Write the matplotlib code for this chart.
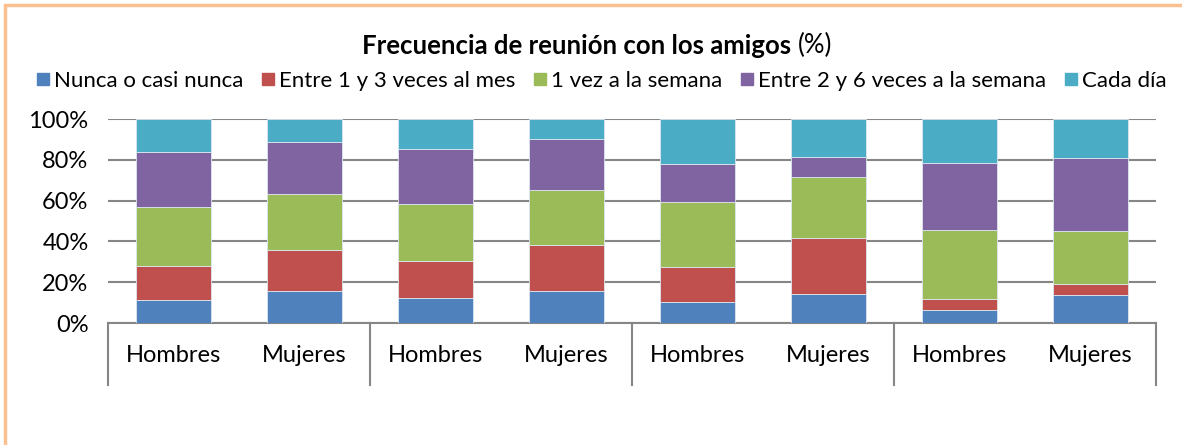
import matplotlib.pyplot as plt
from matplotlib.lines import Line2D
from matplotlib.patches import Rectangle
import numpy as np

plt.rcParams['font.family'] = ['Lato', 'DejaVu Sans']

categorias = ["Hombres", "Mujeres", "Hombres", "Mujeres",
              "Hombres", "Mujeres", "Hombres", "Mujeres"]
series = ["Nunca o casi nunca", "Entre 1 y 3 veces al mes", "1 vez a la semana",
          "Entre 2 y 6 veces a la semana", "Cada día"]
nunca = [11.1, 15.5, 12.1, 15.8, 10.1, 14.4, 6.5, 13.9]
entre_1_3 = [17.0, 20.3, 18.4, 22.4, 17.5, 27.4, 5.3, 5.4]
una_vez = [28.8, 27.6, 27.8, 27.0, 31.6, 29.9, 33.9, 25.8]
entre_2_6 = [27.1, 25.2, 27.1, 25.1, 18.9, 9.8, 32.9, 35.9]
cada_dia = [16.0, 11.4, 14.6, 9.7, 21.9, 18.5, 21.4, 19.0]
colores = ["#4F81BD", "#C0504D", "#9BBB59", "#8064A2", "#4BACC6"]

valores = [nunca, entre_1_3, una_vez, entre_2_6, cada_dia]

fig = plt.figure(figsize=(11.82, 4.45), dpi=100)
ax = fig.add_axes([108/1182, 122/445, 1048/1182, 204/445])

x = np.arange(len(categorias))
base = np.zeros(len(categorias))
for vals, col in zip(valores, colores):
    ax.bar(x, vals, bottom=base, width=0.57, color=col, edgecolor="#dde6f0", linewidth=0.6, zorder=3)
    base += np.array(vals)

ax.set_xlim(-0.5, len(categorias) - 0.5)
ax.set_ylim(0, 100)
ax.set_yticks(range(0, 101, 20))
ax.set_yticklabels([f"{v}%" for v in range(0, 101, 20)], fontsize=17)
ax.yaxis.grid(True, color="#868686", linewidth=1.5, zorder=0)
ax.tick_params(axis='y', length=0, pad=14)
ax.set_xticks(x)
ax.set_xticklabels(categorias, fontsize=17)
ax.tick_params(axis='x', length=0, pad=16)
for s in ['left', 'right', 'top']:
    ax.spines[s].set_visible(False)
ax.spines['bottom'].set_color("#868686")
ax.spines['bottom'].set_linewidth(1.5)

# separadores de grupos debajo del eje
trans = ax.get_xaxis_transform()
for sx in [-0.5, 1.5, 3.5, 5.5, 7.5]:
    ax.plot([sx, sx], [0, -0.305], color="#868686", linewidth=1.5, transform=trans, clip_on=False)

# titulo: parte en negrita + "(%)" normal
t1 = fig.text(0, 0.897, "Frecuencia de reunión con los amigos ", fontsize=18.5, fontweight='bold',
              va='center', ha='left')
t2 = fig.text(0, 0.897, "(%)", fontsize=18.5, va='center', ha='left')
fig.canvas.draw()
r = fig.canvas.get_renderer()
w1 = t1.get_window_extent(r).width / fig.bbox.width
w2 = t2.get_window_extent(r).width / fig.bbox.width
start = 0.505 - (w1 + w2) / 2
t1.set_x(start)
t2.set_x(start + w1)

handles = [Line2D([], [], marker='s', linestyle='none', markersize=9, color=c) for c in colores]
fig.legend(handles, series, loc='center', bbox_to_anchor=(0.508, 0.818), ncol=5, frameon=False,
           fontsize=16, handletextpad=0.1, columnspacing=0.7, handlelength=0.8)

fig.patches.append(Rectangle((5/1182, -0.1), 1.2, 1.1 - 5/445, transform=fig.transFigure,
                             fill=False, edgecolor="#FAC090", linewidth=2.5))

fig.savefig("out.png", dpi=100)
